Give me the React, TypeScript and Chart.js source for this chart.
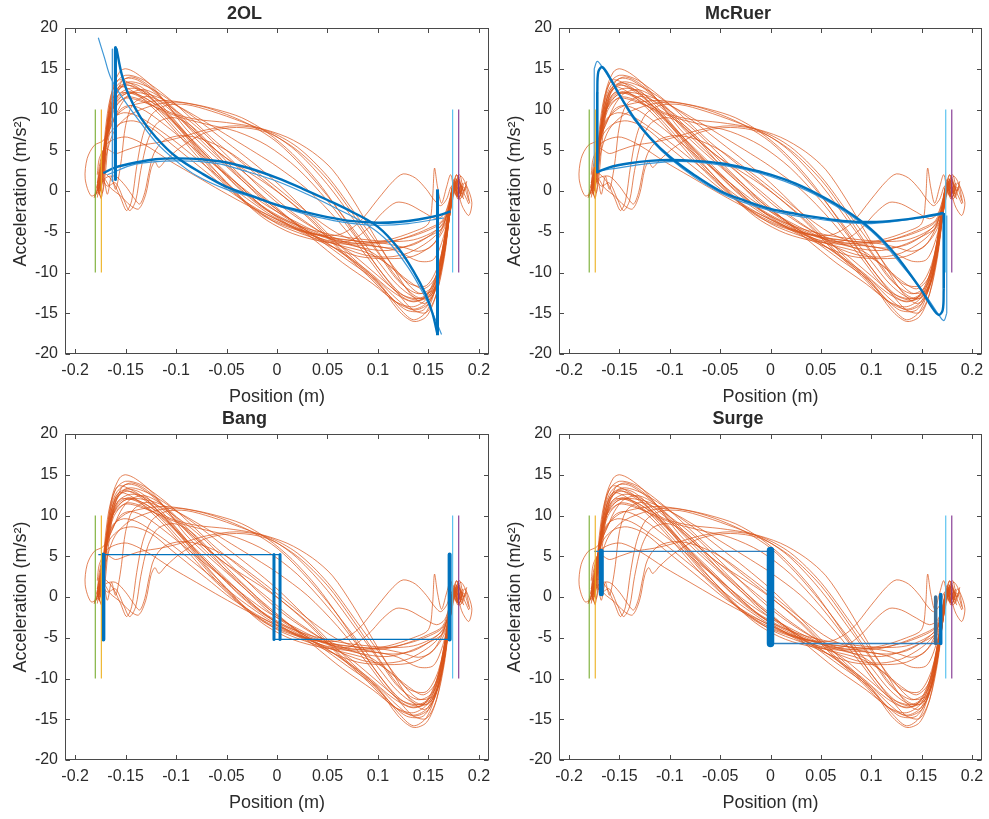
import React, { useEffect, useRef } from 'react';
import { Chart, registerables } from 'chart.js';

Chart.register(...registerables);

type Pt = [number, number];

// ---------- axes ----------
const xTickValues = [-0.2, -0.15, -0.1, -0.05, 0, 0.05, 0.1, 0.15, 0.2];
const xTickLabels = ['-0.2', '-0.15', '-0.1', '-0.05', '0', '0.05', '0.1', '0.15', '0.2'];
const yTickValues = [-20, -15, -10, -5, 0, 5, 10, 15, 20];
const yTickLabels = ['-20', '-15', '-10', '-5', '0', '5', '10', '15', '20'];
const xRange = [-0.21, 0.21];
const yRange = [-20, 20];

const panelTitles = ['2OL', 'McRuer', 'Bang', 'Surge'];
const xAxisTitle = 'Position (m)';
const yAxisTitle = 'Acceleration (m/s²)';

// ---------- target boundary lines ----------
const targetLineX = [-0.18, -0.174, 0.174, 0.18];
const targetLineSpan = [-10, 10];

// ---------- human trials (shared by all panels) ----------
const trial01: Pt[] = [[-0.177,0.4],[-0.180,-0.6],[-0.175,1.2],[-0.171,3.5],[-0.168,8.5],[-0.163,12.5],[-0.156,14.6],[-0.150,15.0],[-0.140,14.5],[-0.125,13],[-0.110,10.8],[-0.090,7.6],[-0.070,5.2],[-0.050,3],[-0.030,0.8],[-0.010,-1.3],[0.010,-3.2],[0.040,-5.8],[0.070,-8.5],[0.100,-11.2],[0.120,-14.2],[0.135,-15.8],[0.148,-14.8],[0.158,-11.5],[0.166,-6],[0.171,-1.5],[0.175,0.8],[0.179,-0.4],[0.183,0.6]];
const trial02: Pt[] = [[-0.176,-0.3],[-0.172,1.5],[-0.170,5],[-0.166,10],[-0.160,13.2],[-0.150,14.2],[-0.135,13.8],[-0.120,12.6],[-0.100,10.6],[-0.080,8.3],[-0.060,6],[-0.040,4],[-0.020,2],[0.000,0],[0.030,-3.2],[0.060,-7],[0.090,-10.4],[0.115,-13.4],[0.135,-14.5],[0.150,-13.5],[0.161,-9.5],[0.168,-4],[0.173,0],[0.177,1.5],[0.181,0.2],[0.185,-1]];
const trial03: Pt[] = [[-0.178,0.8],[-0.174,-0.8],[-0.171,2],[-0.168,7],[-0.162,11],[-0.152,13],[-0.140,12.6],[-0.120,10.8],[-0.100,8.4],[-0.080,5.6],[-0.060,3.1],[-0.040,0.7],[-0.020,-1.4],[0.000,-3.1],[0.030,-5.1],[0.060,-7.2],[0.090,-9.8],[0.115,-12.4],[0.135,-13.6],[0.150,-12.6],[0.162,-8.6],[0.170,-3],[0.175,0.2],[0.180,1.2],[0.186,-0.5],[0.190,-1.6]];
const trial04: Pt[] = [[-0.175,0],[-0.172,2.5],[-0.169,6.5],[-0.163,10],[-0.152,11.8],[-0.140,12.1],[-0.120,11.6],[-0.095,10.2],[-0.070,8.4],[-0.045,6.5],[-0.020,4.6],[0.000,3],[0.030,0.2],[0.060,-3.6],[0.090,-8.2],[0.110,-11.4],[0.130,-13.4],[0.145,-13.2],[0.158,-10.2],[0.167,-5],[0.173,-0.8],[0.178,1],[0.182,-0.6]];
const trial05: Pt[] = [[-0.177,0.2],[-0.173,3],[-0.170,7.5],[-0.165,11.5],[-0.157,13.6],[-0.145,13.2],[-0.130,12],[-0.110,9.5],[-0.090,6.6],[-0.070,3.6],[-0.050,1.1],[-0.030,-1.4],[0.000,-4],[0.030,-5.5],[0.060,-6.6],[0.090,-7.6],[0.110,-9],[0.130,-11],[0.145,-12],[0.157,-10.6],[0.166,-6.2],[0.172,-1.6],[0.176,0.6],[0.180,-0.8],[0.184,0.4]];
const trial06: Pt[] = [[-0.177,0.6],[-0.174,3],[-0.170,6],[-0.163,8.6],[-0.150,10.2],[-0.130,10.9],[-0.110,11.1],[-0.085,10.7],[-0.060,10],[-0.035,9],[-0.010,7.2],[0.015,4.6],[0.040,1.2],[0.060,-2.2],[0.080,-5.8],[0.100,-9.4],[0.120,-12.6],[0.135,-14.6],[0.148,-14.9],[0.158,-12.6],[0.166,-8],[0.171,-3],[0.175,0.2],[0.179,1.6],[0.183,0]];
const trial07: Pt[] = [[-0.176,-0.5],[-0.172,2],[-0.168,5],[-0.160,7.6],[-0.145,9.4],[-0.120,10.6],[-0.100,10.9],[-0.075,10.4],[-0.050,9.4],[-0.025,8],[0.000,6],[0.025,3],[0.050,-0.6],[0.075,-4.6],[0.100,-8.6],[0.120,-11.6],[0.140,-13.2],[0.155,-12.2],[0.165,-8.2],[0.171,-3],[0.176,0.4],[0.181,-1],[0.186,0.3]];
const trial08: Pt[] = [[-0.178,1],[-0.173,4],[-0.169,7.5],[-0.162,10.2],[-0.150,11.4],[-0.130,10.8],[-0.100,9.2],[-0.070,8.2],[-0.040,7.3],[-0.010,5.6],[0.020,2.8],[0.050,-1.2],[0.080,-6],[0.105,-10.2],[0.125,-12.8],[0.142,-13.4],[0.155,-12.4],[0.164,-8.8],[0.170,-3.8],[0.175,-0.5],[0.179,0.8]];
const trial09: Pt[] = [[-0.176,0.3],[-0.172,3],[-0.168,8],[-0.162,11.6],[-0.156,12.8],[-0.145,12.4],[-0.130,11],[-0.110,8.6],[-0.090,5.8],[-0.070,3],[-0.050,0.6],[-0.030,-1.6],[-0.010,-3.3],[0.015,-4.6],[0.040,-5.4],[0.070,-6],[0.095,-6.3],[0.115,-6.1],[0.135,-5.5],[0.152,-4.7],[0.163,-3.9],[0.170,-2.4],[0.174,0],[0.178,1.4],[0.182,-0.2]];
const trial10: Pt[] = [[-0.177,-0.4],[-0.173,2],[-0.169,6],[-0.162,9.8],[-0.150,11.5],[-0.135,11.2],[-0.115,9.8],[-0.095,7.4],[-0.075,4.8],[-0.055,2.4],[-0.035,0],[-0.015,-2],[0.005,-3.4],[0.030,-4.6],[0.060,-5.5],[0.090,-6],[0.115,-6.2],[0.135,-6],[0.152,-5.2],[0.165,-4],[0.171,-1.6],[0.175,0.6],[0.180,-0.8],[0.185,0.5],[0.190,-1.2]];
const trial11: Pt[] = [[-0.176,0.8],[-0.172,3.5],[-0.166,7.5],[-0.155,10],[-0.145,10.5],[-0.130,9.8],[-0.110,8],[-0.090,6],[-0.070,4],[-0.050,2],[-0.030,0],[-0.010,-1.8],[0.010,-3.2],[0.035,-4.8],[0.060,-6.2],[0.090,-7.1],[0.110,-7.3],[0.130,-6.7],[0.150,-5.6],[0.165,-4.4],[0.171,-2],[0.175,0.5],[0.178,2],[0.182,0.5]];
const trial12: Pt[] = [[-0.177,1.5],[-0.173,4.5],[-0.166,7],[-0.155,8.3],[-0.142,8.6],[-0.125,7.8],[-0.105,5.8],[-0.085,3.8],[-0.065,1.8],[-0.045,-0.2],[-0.025,-1.8],[-0.005,-3.2],[0.025,-4.9],[0.055,-6.4],[0.085,-7.8],[0.110,-8.1],[0.130,-7.6],[0.150,-6.2],[0.163,-4.6],[0.170,-2.2],[0.174,0.2],[0.179,-1]];
const trial13: Pt[] = [[-0.178,0.5],[-0.176,3],[-0.170,5.6],[-0.160,6.4],[-0.148,6.6],[-0.130,5.6],[-0.105,3.6],[-0.080,1.8],[-0.055,0],[-0.030,-1.7],[-0.005,-3.2],[0.020,-4.8],[0.050,-6.6],[0.080,-8],[0.110,-8.3],[0.135,-8],[0.155,-6.5],[0.166,-4.5],[0.172,-1.5],[0.176,1],[0.181,-0.3]];
const trial14: Pt[] = [[-0.178,0.2],[-0.174,1.5],[-0.168,0.6],[-0.160,1],[-0.152,-1],[-0.146,-2.4],[-0.140,-1.2],[-0.135,2.5],[-0.128,6.2],[-0.118,8.4],[-0.102,9],[-0.085,8],[-0.065,5.6],[-0.045,3],[-0.025,0.6],[-0.005,-1.8],[0.025,-4.4],[0.055,-5.9],[0.085,-6.5],[0.110,-6.3],[0.130,-5.6],[0.150,-4.6],[0.164,-3.6],[0.171,-1.2],[0.175,0.8],[0.180,-0.5]];
const trial15: Pt[] = [[-0.177,0.6],[-0.172,1.6],[-0.165,0.4],[-0.155,-0.6],[-0.145,-1.8],[-0.137,-2.2],[-0.130,-0.4],[-0.125,2.6],[-0.121,3.6],[-0.117,2.9],[-0.110,3.8],[-0.095,5.4],[-0.070,7.2],[-0.040,7.8],[-0.010,7.2],[0.020,5],[0.050,1.4],[0.075,-2.8],[0.100,-7.4],[0.120,-10.8],[0.137,-12.9],[0.150,-13.1],[0.161,-10.6],[0.168,-5.8],[0.173,-1.2],[0.177,0.8],[0.182,-0.6]];
const trial16: Pt[] = [[-0.178,1],[-0.172,2.2],[-0.163,1.2],[-0.155,-0.8],[-0.149,-2.4],[-0.144,-1.2],[-0.139,3],[-0.133,6.8],[-0.124,9.4],[-0.110,10.5],[-0.090,10.6],[-0.065,9.8],[-0.035,8.5],[-0.005,7],[0.020,4.8],[0.050,0.8],[0.080,-4.2],[0.100,-7.6],[0.120,-11],[0.140,-12.6],[0.155,-11.6],[0.165,-7.2],[0.171,-2.2],[0.176,0.4],[0.180,-1]];
const trial17: Pt[] = [[-0.178,2],[-0.176,4],[-0.170,5.2],[-0.160,4.6],[-0.150,5],[-0.135,5.6],[-0.115,6],[-0.095,6.6],[-0.070,7.5],[-0.040,8],[-0.010,7.4],[0.020,5.4],[0.050,1.8],[0.080,-3.2],[0.100,-6.6],[0.120,-10],[0.140,-12.5],[0.155,-12.1],[0.165,-8],[0.171,-3],[0.175,0],[0.179,1.2]];
const trial18: Pt[] = [[-0.176,0],[-0.184,-0.6],[-0.190,1.5],[-0.188,4],[-0.181,5.6],[-0.172,6.2],[-0.164,8],[-0.155,10.5],[-0.145,12],[-0.130,12.4],[-0.110,11],[-0.090,8.6],[-0.070,6],[-0.050,3.2],[-0.030,0.8],[-0.010,-1.6],[0.015,-3.8],[0.045,-6],[0.075,-8.6],[0.100,-11],[0.120,-13.4],[0.135,-14.6],[0.150,-13.8],[0.161,-10.2],[0.168,-5.2],[0.173,-1],[0.177,1],[0.183,-0.4]];
const trial19: Pt[] = [[-0.177,-0.2],[-0.173,2.6],[-0.169,6.8],[-0.163,10.4],[-0.155,12],[-0.140,11.8],[-0.120,10.2],[-0.100,7.6],[-0.080,4.8],[-0.060,2],[-0.040,-0.4],[-0.020,-2.4],[0.005,-4],[0.035,-5.2],[0.060,-5.4],[0.080,-4],[0.100,-1],[0.115,1.2],[0.125,2.1],[0.137,1.6],[0.148,0.2],[0.155,-1],[0.162,-1.8],[0.168,-1],[0.173,0.6],[0.178,-0.6]];
const trial20: Pt[] = [[-0.176,0.8],[-0.172,3.5],[-0.167,8.2],[-0.160,11.8],[-0.150,13.2],[-0.135,12.8],[-0.115,10.6],[-0.095,7.8],[-0.075,5],[-0.055,2.6],[-0.035,0.4],[-0.015,-1.8],[0.010,-3.6],[0.040,-5.4],[0.070,-6.2],[0.090,-4.6],[0.105,-2.6],[0.118,-1.4],[0.130,-1.6],[0.145,-2.6],[0.158,-3.4],[0.166,-2.8],[0.171,-1],[0.175,1],[0.180,0]];
const trial21: Pt[] = [[-0.177,0],[-0.173,2.4],[-0.170,6.4],[-0.165,10],[-0.158,12.6],[-0.145,13.4],[-0.125,12.6],[-0.100,10.6],[-0.075,8.4],[-0.050,6],[-0.025,3.6],[0.000,1],[0.025,-2],[0.050,-5.2],[0.075,-8.2],[0.100,-11.2],[0.120,-14.6],[0.135,-16],[0.148,-15.4],[0.158,-12.6],[0.165,-8],[0.170,-3],[0.174,0.6],[0.178,2],[0.182,0.4]];
const trial22: Pt[] = [[-0.178,-0.8],[-0.175,1.8],[-0.171,5.5],[-0.167,9.6],[-0.160,12.6],[-0.150,13.8],[-0.138,13.6],[-0.120,12],[-0.100,9.4],[-0.080,6.8],[-0.060,4.4],[-0.040,2.2],[-0.020,0],[0.005,-2.6],[0.035,-5.8],[0.065,-8.8],[0.095,-11.4],[0.118,-13.6],[0.135,-14.2],[0.150,-13],[0.160,-9.6],[0.167,-5],[0.172,-1],[0.176,1.2],[0.181,-0.2],[0.186,1],[0.191,-1.5]];
const trial23: Pt[] = [[-0.176,0.4],[-0.172,4],[-0.167,9],[-0.160,12],[-0.148,13],[-0.130,12],[-0.110,9.6],[-0.090,6.8],[-0.070,3.8],[-0.050,1],[-0.030,-1.6],[-0.010,-3.6],[0.015,-5.2],[0.045,-6.2],[0.075,-6.6],[0.100,-6.8],[0.120,-7.4],[0.140,-8.6],[0.155,-8.4],[0.165,-5.6],[0.171,-2],[0.175,0.4],[0.179,-0.8]];
const trial24: Pt[] = [[-0.177,1],[-0.172,3],[-0.167,7.6],[-0.160,10.8],[-0.148,12],[-0.130,11.4],[-0.110,9.4],[-0.090,7],[-0.070,4.6],[-0.050,2.2],[-0.030,-0.2],[-0.005,-2.8],[0.025,-5],[0.055,-6.2],[0.085,-6.4],[0.110,-6],[0.135,-5],[0.150,-4],[0.154,-1],[0.156,2.8],[0.159,0.5],[0.163,-1.5],[0.168,0.5],[0.172,2],[0.176,0],[0.180,1.6],[0.184,-0.4]];
const trial25: Pt[] = [[-0.176,0],[-0.173,2],[-0.170,5.5],[-0.165,9.4],[-0.157,11.8],[-0.145,12.6],[-0.130,12.2],[-0.110,10.4],[-0.090,8.2],[-0.070,6],[-0.050,4],[-0.030,2],[-0.010,0],[0.015,-2.6],[0.045,-5.2],[0.075,-7.8],[0.100,-10.4],[0.122,-12.6],[0.140,-13.2],[0.154,-12],[0.164,-8],[0.171,-3],[0.176,0.5],[0.182,1.8],[0.188,0.6],[0.193,-1.4],[0.190,-3],[0.184,-2],[0.180,-0.5]];
const trial26: Pt[] = [[-0.177,0.5],[-0.181,-0.8],[-0.176,1.8],[-0.171,4.5],[-0.166,8.6],[-0.158,11.4],[-0.146,12.2],[-0.128,11.2],[-0.105,9.6],[-0.080,8.8],[-0.050,8.4],[-0.020,7.8],[0.010,6.6],[0.035,4.8],[0.055,2.6],[0.075,-1],[0.095,-5.2],[0.115,-9.4],[0.132,-12.6],[0.146,-13.8],[0.157,-12.2],[0.165,-8],[0.171,-3],[0.176,0.6],[0.181,2],[0.185,0],[0.188,1.2]];
const trial27: Pt[] = [[-0.174,-1],[-0.178,0.6],[-0.172,1.4],[-0.168,-0.4],[-0.164,1.8],[-0.160,0.2],[-0.157,1.6],[-0.154,4],[-0.150,8],[-0.143,10.6],[-0.130,11.6],[-0.115,11],[-0.095,9.4],[-0.075,7.4],[-0.055,5],[-0.035,2.6],[-0.015,0.2],[0.010,-2.4],[0.040,-4.8],[0.070,-6.4],[0.095,-7.6],[0.115,-9.6],[0.132,-11.4],[0.148,-11.6],[0.160,-9],[0.168,-4.4],[0.173,-0.6],[0.178,1.2],[0.183,-0.8],[0.187,0.6]];
const trial28: Pt[] = [[-0.176,1.2],[-0.173,-0.2],[-0.170,2.2],[-0.167,6.2],[-0.162,10.6],[-0.154,13.4],[-0.144,14],[-0.130,13.2],[-0.112,11.2],[-0.092,8.6],[-0.072,6.2],[-0.052,4.2],[-0.032,2.6],[-0.012,1],[0.010,-1],[0.035,-3.6],[0.060,-6.8],[0.085,-9.6],[0.108,-12.4],[0.128,-14.6],[0.145,-14.6],[0.157,-12],[0.165,-7.4],[0.171,-2.2],[0.175,1.4],[0.179,-0.2],[0.184,1]];
const trial29: Pt[] = [[-0.178,0],[-0.175,2.6],[-0.170,6],[-0.163,8.8],[-0.152,9.6],[-0.138,9.2],[-0.120,7.8],[-0.100,6],[-0.080,4],[-0.060,2],[-0.040,0],[-0.020,-1.8],[0.000,-3.4],[0.025,-4.8],[0.055,-5.8],[0.085,-6.2],[0.105,-6.4],[0.125,-6.9],[0.140,-7.4],[0.153,-6.8],[0.163,-4.8],[0.170,-2.2],[0.174,0.4],[0.178,-0.6],[0.182,0.8]];
const trial30: Pt[] = [[-0.177,0.2],[-0.170,1.6],[-0.160,1.8],[-0.150,0.6],[-0.142,-0.8],[-0.136,-1.6],[-0.131,-0.2],[-0.127,2.2],[-0.122,4.6],[-0.112,6.2],[-0.095,6.8],[-0.075,6.4],[-0.050,5],[-0.025,2.8],[0.000,0.4],[0.030,-2.6],[0.060,-5.2],[0.090,-6.6],[0.115,-7],[0.135,-6.6],[0.152,-5.4],[0.164,-4],[0.171,-1.6],[0.176,0.8],[0.180,-0.4]];

const humanTrials: Pt[][] = [
  trial01, trial02, trial03, trial04, trial05, trial06, trial07, trial08, trial09, trial10,
  trial11, trial12, trial13, trial14, trial15, trial16, trial17, trial18, trial19, trial20,
  trial21, trial22, trial23, trial24, trial25, trial26, trial27, trial28, trial29, trial30,
];

// ---------- model: 2OL ----------
const olRightward: Pt[] = [[-0.172,2.2],[-0.160,2.9],[-0.140,3.5],[-0.120,3.9],[-0.100,4],[-0.075,3.9],[-0.050,3.5],[-0.025,2.7],[0.000,1.6],[0.025,0.3],[0.050,-1.1],[0.075,-2.6],[0.100,-4.4],[0.120,-7],[0.135,-9.8],[0.147,-12.6],[0.154,-15],[0.159,-17.6]];
const olLeftward: Pt[] = [[0.172,-2.5],[0.160,-3],[0.140,-3.5],[0.120,-3.8],[0.100,-3.9],[0.075,-3.7],[0.050,-3.2],[0.025,-2.5],[0.000,-1.7],[-0.025,-0.6],[-0.050,0.5],[-0.075,2.2],[-0.100,4.2],[-0.120,6.6],[-0.135,9],[-0.147,11.8],[-0.154,14.4],[-0.159,17.5]];
const olLightRightward: Pt[] = [[-0.168,2],[-0.140,3.3],[-0.100,3.7],[-0.060,3.4],[-0.030,2.4],[0.000,1.2],[0.030,-0.4],[0.060,-2.2],[0.090,-4.2],[0.110,-6.2],[0.130,-9.4],[0.145,-12.6],[0.155,-15.2],[0.163,-17.6]];
const olLightLeftward: Pt[] = [[0.165,-3.3],[0.130,-4],[0.100,-4.2],[0.070,-3.9],[0.040,-3.2],[0.010,-2.2],[-0.020,-0.9],[-0.050,0.2],[-0.080,1.9],[-0.100,3.7],[-0.120,6],[-0.140,9.2],[-0.155,11.8],[-0.165,14],[-0.171,16.4],[-0.177,18.8]];
const olSwitches: Pt[][] = [[[-0.160,17.6],[-0.160,1.4]], [[-0.163,17.4],[-0.163,1.2]], [[0.159,-17.7],[0.159,0.2]]];

// ---------- model: McRuer ----------
const mcRightward: Pt[] = [[-0.172,2.3],[-0.160,2.9],[-0.140,3.4],[-0.120,3.7],[-0.100,3.8],[-0.075,3.7],[-0.050,3.4],[-0.025,2.8],[0.000,2],[0.025,0.9],[0.050,-0.6],[0.075,-2.4],[0.100,-4.7],[0.120,-7.2],[0.135,-9.6],[0.150,-12.2],[0.160,-14.2],[0.167,-15.2],[0.171,-14.6],[0.172,-12]];
const mcLeftward: Pt[] = [[0.172,-2.7],[0.150,-3.2],[0.125,-3.6],[0.100,-3.8],[0.075,-3.7],[0.050,-3.3],[0.025,-2.8],[0.000,-2.2],[-0.025,-1.2],[-0.050,0],[-0.075,1.9],[-0.100,4.2],[-0.120,6.6],[-0.135,8.9],[-0.150,11.8],[-0.160,14],[-0.167,15.2],[-0.171,14.6],[-0.172,12]];
const mcLightRightward: Pt[] = [[-0.170,2.5],[-0.100,3.6],[-0.050,3.2],[0.000,1.8],[0.050,-0.8],[0.100,-4.9],[0.135,-9.8],[0.155,-13],[0.166,-15],[0.172,-15.9],[0.175,-15]];
const mcLightLeftward: Pt[] = [[0.170,-2.9],[0.100,-4],[0.050,-3.5],[0.000,-2.4],[-0.050,-0.2],[-0.100,4],[-0.135,8.7],[-0.155,12.8],[-0.166,15],[-0.172,15.9],[-0.175,15]];
const mcSwitches: Pt[][] = [[[-0.172,12],[-0.172,2.3]], [[0.172,-12],[0.172,-2.7]]];
const mcLightSwitches: Pt[][] = [[[-0.175,15],[-0.175,3]], [[0.175,-15],[0.175,-3]]];

// ---------- model: Bang ----------
const bangUpper: Pt[] = [[-0.177,5.2],[0.003,5.2]];
const bangLower: Pt[] = [[-0.003,-5.2],[0.172,-5.2]];
const bangSwitches: Pt[][] = [[[-0.172,5.2],[-0.172,-5.2]], [[-0.003,5.2],[-0.003,-5.2]], [[0.003,5.2],[0.003,-5.2]], [[0.171,5.2],[0.171,-5.2]]];

// ---------- model: Surge ----------
const surgeUpper: Pt[] = [[-0.175,5.6],[0.000,5.6]];
const surgeLower: Pt[] = [[0.000,-5.7],[0.168,-5.7]];
const surgeSwitchSide: Pt[][] = [[[-0.168,5.6],[-0.168,0.4]], [[0.164,0.0],[0.164,-5.7]], [[0.169,0.3],[0.169,-5.7]]];
const surgeSwitchMid: Pt[] = [[0.000,5.7],[0.000,-5.7]];

// ---------- styling / layout ----------
const FONT = '"Liberation Sans", Arial, Helvetica, sans-serif';
const TEXT = '#2b2b2b';
const ORANGE = 'rgba(217,83,25,0.8)';
const BLUE = '#0072BD';
const LIGHT_BLUE = '#3f97d6';
const targetColors = ['#77AC30', '#EDB120', '#4DBEEE', '#7E2F8E'];

const panelBoxes = [
  { left: 0, top: 0, width: 494, height: 410, axisW: 65, axisH: 56, padRight: 5, tTop: 3.7, tBottom: 2.7, xtBottom: 2.5 },
  { left: 494, top: 0, width: 495, height: 410, axisW: 65, axisH: 56, padRight: 7, tTop: 3.7, tBottom: 2.7, xtBottom: 2.5 },
  { left: 0, top: 406, width: 494, height: 413, axisW: 65, axisH: 59, padRight: 5, tTop: 2.7, tBottom: 3.7, xtBottom: 5.5 },
  { left: 494, top: 406, width: 495, height: 413, axisW: 65, axisH: 59, padRight: 7, tTop: 2.7, tBottom: 3.7, xtBottom: 5.5 },
];

function line(pts: Pt[], color: string, width: number, tension = 0) {
  return {
    data: pts.map(([x, y]) => ({ x, y })),
    showLine: true,
    pointRadius: 0,
    pointHoverRadius: 0,
    borderColor: color,
    backgroundColor: color,
    borderWidth: width,
    tension,
    fill: false,
    borderJoinStyle: 'round' as const,
  };
}

function modelDatasets(idx: number) {
  if (idx === 0) {
    return [
      ...olSwitches.map((p, i) => line(p, i === 1 ? LIGHT_BLUE : BLUE, i === 1 ? 1.5 : 3)),
      line(olRightward, BLUE, 2.4, 0.35),
      line(olLeftward, BLUE, 2.4, 0.35),
      line(olLightRightward, LIGHT_BLUE, 1.2, 0.35),
      line(olLightLeftward, LIGHT_BLUE, 1.2, 0.35),
    ];
  }
  if (idx === 1) {
    return [
      ...mcSwitches.map((p) => line(p, BLUE, 2.6)),
      ...mcLightSwitches.map((p) => line(p, LIGHT_BLUE, 1.2)),
      line(mcRightward, BLUE, 2.4, 0.35),
      line(mcLeftward, BLUE, 2.4, 0.35),
      line(mcLightRightward, LIGHT_BLUE, 1.2, 0.35),
      line(mcLightLeftward, LIGHT_BLUE, 1.2, 0.35),
    ];
  }
  if (idx === 2) {
    return [
      ...bangSwitches.map((p, i) => line(p, BLUE, i === 0 || i === 3 ? 4 : 3)),
      line(bangUpper, BLUE, 1.4),
      line(bangLower, BLUE, 1.4),
    ];
  }
  return [
    line(surgeSwitchMid, BLUE, 7.5),
    ...surgeSwitchSide.map((p, i) => line(p, i === 1 ? '#3f6f95' : BLUE, i === 0 ? 5 : 3.5)),
    line(surgeUpper, '#2f7fbf', 1.4),
    line(surgeLower, '#2f7fbf', 1.4),
  ];
}

const framePlugin = {
  id: 'matlabFrame',
  afterDatasetsDraw(chart: any) {
    const { ctx, chartArea } = chart;
    const { left, top, right, bottom } = chartArea;
    const xs = chart.scales.x;
    const ys = chart.scales.y;
    const L = Math.round(left) + 0.5;
    const R = Math.round(right) - 0.5;
    const T = Math.round(top) + 0.5;
    const B = Math.round(bottom) - 0.5;
    ctx.save();
    ctx.strokeStyle = '#4a4a4a';
    ctx.lineWidth = 1;
    ctx.strokeRect(L, T, R - L, B - T);
    const tick = 4.5;
    ctx.beginPath();
    for (const v of xTickValues) {
      const px = Math.round(xs.getPixelForValue(v)) + 0.5;
      ctx.moveTo(px, B);
      ctx.lineTo(px, B - tick);
      ctx.moveTo(px, T);
      ctx.lineTo(px, T + tick);
    }
    for (const v of yTickValues) {
      const py = Math.round(ys.getPixelForValue(v)) + 0.5;
      ctx.moveTo(L, py);
      ctx.lineTo(L + tick, py);
      ctx.moveTo(R, py);
      ctx.lineTo(R - tick, py);
    }
    ctx.stroke();
    ctx.restore();
  },
};

function Panel({ idx }: { idx: number }) {
  const ref = useRef<HTMLCanvasElement>(null);
  const b = panelBoxes[idx];

  useEffect(() => {
    const canvas = ref.current;
    if (!canvas) return;
    const targets = targetLineX.map((x, i) =>
      line([[x, targetLineSpan[0]], [x, targetLineSpan[1]]], targetColors[i], 1.1)
    );
    const human = humanTrials.map((t) => line(t, ORANGE, 0.9, 0.3));
    const datasets = [...targets, ...modelDatasets(idx), ...human];

    const chart = new Chart(canvas, {
      type: 'scatter',
      data: { datasets: datasets as any },
      options: {
        animation: false,
        responsive: false,
        maintainAspectRatio: false,
        devicePixelRatio: 1,
        events: [],
        layout: { padding: { left: 0, right: b.padRight, top: 0, bottom: 0 } },
        plugins: {
          legend: { display: false },
          tooltip: { enabled: false },
          title: {
            display: true,
            text: panelTitles[idx],
            color: TEXT,
            font: { family: FONT, size: 18, weight: 'bold' },
            padding: { top: b.tTop, bottom: b.tBottom },
          },
        },
        scales: {
          x: {
            type: 'linear',
            min: xRange[0],
            max: xRange[1],
            grid: { display: false, drawTicks: false },
            border: { display: false },
            afterBuildTicks: (s: any) => {
              s.ticks = xTickValues.map((v) => ({ value: v }));
            },
            afterFit: (s: any) => {
              s.height = b.axisH;
              s.paddingLeft = 0;
              s.paddingRight = 0;
              s.paddingTop = 0;
              s.paddingBottom = 0;
            },
            ticks: {
              callback: (_v: any, i: number) => xTickLabels[i],
              autoSkip: false,
              maxRotation: 0,
              minRotation: 0,
              padding: 7.4,
              color: TEXT,
              font: { family: FONT, size: 16 },
            },
            title: {
              display: true,
              text: xAxisTitle,
              color: TEXT,
              font: { family: FONT, size: 18 },
              padding: { top: 0, bottom: b.xtBottom },
            },
          },
          y: {
            type: 'linear',
            min: yRange[0],
            max: yRange[1],
            grid: { display: false, drawTicks: false },
            border: { display: false },
            afterBuildTicks: (s: any) => {
              s.ticks = yTickValues.map((v) => ({ value: v }));
            },
            afterFit: (s: any) => {
              s.width = b.axisW;
              s.paddingLeft = 0;
              s.paddingRight = 0;
              s.paddingTop = 0;
              s.paddingBottom = 0;
            },
            ticks: {
              callback: (_v: any, i: number) => yTickLabels[i],
              autoSkip: false,
              padding: 7,
              color: TEXT,
              font: { family: FONT, size: 16 },
            },
            title: {
              display: true,
              text: yAxisTitle,
              color: TEXT,
              font: { family: FONT, size: 18 },
              padding: { top: 10.2, bottom: 0 },
            },
          },
        },
      } as any,
      plugins: [framePlugin],
    });
    return () => chart.destroy();
  }, [idx]);

  return (
    <canvas
      ref={ref}
      width={b.width}
      height={b.height}
      style={{ position: 'absolute', left: b.left, top: b.top, width: b.width, height: b.height, display: 'block' }}
    />
  );
}

export default function App() {
  return (
    <div style={{ position: 'absolute', left: 0, top: 0, width: 989, height: 819, background: '#ffffff' }}>
      {panelTitles.map((_, i) => (
        <Panel key={i} idx={i} />
      ))}
    </div>
  );
}
